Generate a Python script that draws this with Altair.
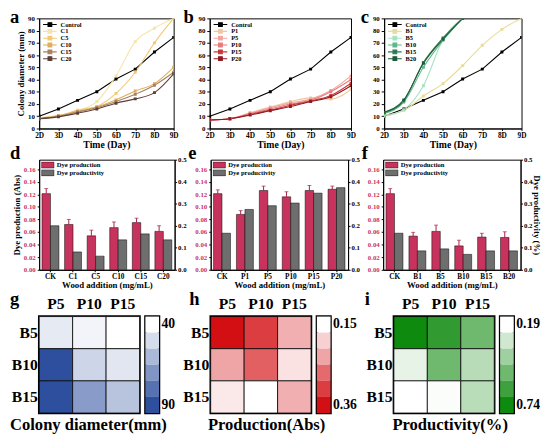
import altair as alt
import pandas as pd

FONT = "Liberation Serif"

# ---------------- data: growth curves (a, b, c) ----------------
days = ["2D", "3D", "4D", "5D", "6D", "7D", "8D", "9D"]
control = [10, 16, 23, 30, 40.5, 48.5, 62.5, 74.5]

a_names = ["Control", "C1", "C5", "C10", "C15", "C20"]
a_C1 = [8.2, 10, 14.6, 22, 43, 71, 82, 90]
a_C5 = [8, 10, 15, 18, 28.7, 46, 70, 90]
a_C10 = [8.5, 10.5, 14, 17.5, 23.4, 30.6, 36.7, 50]
a_C15 = [8, 10, 13.5, 17, 22, 28, 35.4, 46]
a_C20 = [8, 9.5, 12.5, 16, 20.7, 24.2, 29.3, 44.7]
a_colors = ["#000000", "#F7E3A6", "#F2C872", "#DDAE5E", "#A8825E", "#5E3E38"]

b_names = ["Control", "P1", "P5", "P10", "P15", "P20"]
b_P1 = [7, 8, 13, 17.5, 22, 25, 24, 32]
b_P5 = [7, 8, 12.5, 17, 21, 24, 31, 43]
b_P10 = [7, 8, 12, 16, 20, 23, 30, 40]
b_P15 = [7, 8, 11.5, 15, 19, 22.5, 27, 37]
b_P20 = [7, 8, 11, 14.5, 18, 22, 26, 35]
b_colors = ["#000000", "#F3C79A", "#F2A3A0", "#E47C7E", "#C8383C", "#8E1B22"]

c_names = ["Control", "B1", "B5", "B10", "B15", "B20"]
c_B1 = [11, 14.6, 26.6, 36.7, 51.4, 68, 81, 90]
c_B5 = [10, 15.4, 35, 72.7, 90]
c_B10 = [12.2, 21.6, 50, 72, 90]
c_B15 = [12.8, 22.6, 54, 74, 90]
c_B20 = [13.3, 23.4, 53.2, 73, 90]
c_colors = ["#000000", "#E8DC96", "#A6E3C2", "#5DB98A", "#2E7D52", "#1D5B3A"]

# ---------------- data: bars (d, e, f) ----------------
SERIES = ["Dye production", "Dye productivity"]
d_cats = ["CK", "C1", "C5", "C10", "C15", "C20"]
d_prod = [0.121, 0.072, 0.054, 0.067, 0.075, 0.061]
d_err = [0.008, 0.008, 0.009, 0.009, 0.007, 0.009]
d_pvity = [0.20, 0.081, 0.062, 0.136, 0.163, 0.136]

e_cats = ["CK", "P1", "P5", "P10", "P15", "P20"]
e_prod = [0.121, 0.088, 0.126, 0.116, 0.126, 0.128]
e_err = [0.006, 0.006, 0.007, 0.008, 0.008, 0.005]
e_pvity = [0.166, 0.274, 0.291, 0.303, 0.348, 0.373]

f_cats = ["CK", "B1", "B5", "B10", "B15", "B20"]
f_prod = [0.121, 0.0535, 0.061, 0.038, 0.052, 0.0514]
f_err = [0.008, 0.006, 0.010, 0.009, 0.006, 0.009]
f_pvity = [0.166, 0.086, 0.095, 0.070, 0.086, 0.086]

# ---------------- data: heatmaps (g, h, i) ----------------
hm_cols = ["P5", "P10", "P15"]
hm_rows = ["B5", "B10", "B15"]
g_vals = [[46, 43, 40], [90, 52, 47], [90, 68, 57]]
h_vals = [[0.36, 0.32, 0.22], [0.23, 0.29, 0.175], [0.17, 0.15, 0.22]]
i_vals = [[0.74, 0.66, 0.52], [0.245, 0.52, 0.355], [0.19, 0.20, 0.35]]
g_steps = [40, 50, 60, 70, 80, 90]
h_steps = [0.15, 0.19, 0.23, 0.28, 0.32, 0.36]
i_steps = [0.19, 0.30, 0.41, 0.52, 0.63, 0.74]

RED = "#C8335E"
GRAY = "#6E6E6E"
ERR = "#A31F48"
LEG_PATH_LINE = "M-1,0H3M0.45,-0.55H1.55V0.55H0.45Z"
LEG_PATH_BAR = "M-1,-0.9H2.6V0.9H-1Z"


def letter_mark(t, lx, ly):
    return alt.Chart(pd.DataFrame({"t": [t]})).mark_text(
        align="left", baseline="alphabetic", fontSize=19, fontWeight="bold",
        font=FONT, color="black"
    ).encode(text="t:N", x=alt.value(lx), y=alt.value(ly))


def line_df(names, series):
    rows = []
    for n, vals in zip(names, series):
        for d, v in zip(days, vals):
            rows.append({"series": n, "day": d, "value": v})
    return pd.DataFrame(rows)


def line_panel(names, series, colors, letter, lx, width, ytitle):
    df = line_df(names, series)
    x = alt.X("day:O", sort=days, scale=alt.Scale(type="point", padding=0),
              axis=alt.Axis(title="Time (Day)", labelAngle=0, labelFontSize=7.5,
                            titleFontSize=10, tickSize=2, labelPadding=1, titlePadding=1))
    y = alt.Y("value:Q", scale=alt.Scale(domain=[0, 90], nice=False),
              axis=alt.Axis(values=list(range(0, 91, 10)), title=ytitle, labelFontSize=7,
                            titleFontSize=9, tickSize=3, labelPadding=2, titlePadding=2))
    leg = alt.Legend(title=None, orient="top-left", offset=3, padding=0, labelFontSize=6.5,
                     symbolType=LEG_PATH_LINE, symbolSize=49, symbolStrokeWidth=1.1,
                     clipHeight=6.7, rowPadding=0, labelOffset=10)
    color = alt.Color("series:N", scale=alt.Scale(domain=names, range=colors), legend=leg)
    base = alt.Chart(df).encode(x=x, y=y, color=color)
    ctrl = base.transform_filter(alt.datum.series == "Control").mark_line(strokeWidth=1.1, clip=True)
    rest = base.transform_filter(alt.datum.series != "Control").mark_line(
        interpolate="monotone", strokeWidth=1.1, clip=True)
    pts = base.mark_point(filled=True, size=9, opacity=1, shape="square", clip=True)
    return alt.layer(ctrl, rest, pts, letter_mark(letter, lx, 5)).properties(width=width, height=113)


def bar_panel(cats, prod, err, pvity, letter, lx, width, ltitle, rtitle):
    hi = [round(p + e, 4) for p, e in zip(prod, err)]
    dfr = pd.DataFrame({"cat": cats, "prod": prod, "hi": hi, "series": SERIES[0]})
    dfg = pd.DataFrame({"cat": cats, "pvity": pvity, "series": SERIES[1]})
    x = alt.X("cat:N", sort=cats, scale=alt.Scale(paddingInner=0.25, paddingOuter=0.125),
              axis=alt.Axis(title="Wood addition (mg/mL)", labelAngle=0, labelFontSize=7.5,
                            titleFontSize=9, tickSize=2, labelPadding=1, titlePadding=1))
    xo = alt.XOffset("series:N", scale=alt.Scale(domain=SERIES))
    leg = alt.Legend(title=None, orient="top-left", offset=2, padding=0, labelFontSize=6.8,
                     symbolType=LEG_PATH_BAR, symbolSize=49, symbolStrokeColor="black",
                     symbolStrokeWidth=0.5, clipHeight=7, rowPadding=0, labelOffset=8)
    color = alt.Color("series:N", scale=alt.Scale(domain=SERIES, range=[RED, GRAY]), legend=leg)
    laxis = alt.Axis(orient="left", values=[0, 0.02, 0.04, 0.06, 0.08, 0.10, 0.12, 0.14, 0.16],
                     format=".2f", labelColor=RED, title=ltitle, labelFontSize=7, titleFontSize=9,
                     tickSize=2, labelPadding=2, titlePadding=2)
    raxis = alt.Axis(orient="right", values=[0, 0.1, 0.2, 0.3, 0.4, 0.5], format=".1f",
                     title=rtitle, labelFontSize=7, titleFontSize=9, tickSize=2,
                     labelPadding=1, titlePadding=0)
    ysc = alt.Scale(domain=[0, 0.175], nice=False)
    red = alt.Chart(dfr).mark_bar(stroke="black", strokeWidth=0.5).encode(
        x=x, xOffset=xo, y=alt.Y("prod:Q", scale=ysc, axis=laxis), color=color)
    rule = alt.Chart(dfr).mark_rule(color=ERR, strokeWidth=1).encode(
        x=x, xOffset=xo, y=alt.Y("prod:Q", scale=ysc, axis=laxis), y2="hi:Q")
    cap = alt.Chart(dfr).mark_tick(color=ERR, thickness=1, size=4).encode(
        x=x, xOffset=xo, y=alt.Y("hi:Q", scale=ysc, axis=laxis))
    left = alt.layer(red, rule, cap)
    gray = alt.Chart(dfg).mark_bar(stroke="black", strokeWidth=0.5).encode(
        x=x, xOffset=xo,
        y=alt.Y("pvity:Q", scale=alt.Scale(domain=[0, 0.5], nice=False), axis=raxis),
        color=color)
    return alt.layer(left, gray, letter_mark(letter, lx, -1)).resolve_scale(
        y="independent").properties(width=width, height=113)


def heat_panel(vals, steps, hi_color, title, letter, lx, tdx):
    rows = []
    for i, r in enumerate(hm_rows):
        for j, c in enumerate(hm_cols):
            rows.append({"row": r, "col": c, "v": vals[i][j]})
    df = pd.DataFrame(rows)
    sc = alt.Scale(domain=[steps[0], steps[-1]], range=["#ffffff", hi_color], interpolate="rgb")
    cells = alt.Chart(df).mark_rect(stroke="black", strokeWidth=0.8).encode(
        x=alt.X("col:N", sort=hm_cols,
                axis=alt.Axis(orient="top", title=None, labelAngle=0, labelFontSize=16,
                              ticks=False, tickSize=0, domain=False, labelPadding=5)),
        y=alt.Y("row:N", sort=hm_rows,
                axis=alt.Axis(title=None, labelFontSize=16, ticks=False, tickSize=0,
                              domain=False, labelPadding=2)),
        color=alt.Color("v:Q", scale=sc, legend=None))
    hm = alt.layer(cells, letter_mark(letter, lx, -12)).properties(
        width=103, height=99,
        view=alt.ViewBackground(stroke="black", strokeWidth=2.5))
    ldf = pd.DataFrame({"s": steps})
    expr = f"datum.value == {steps[0]} || datum.value == {steps[-1]} ? datum.label : ''"
    leg = alt.Chart(ldf).mark_rect().encode(
        y=alt.Y("s:O", sort="ascending",
                axis=alt.Axis(orient="right", title=None, labelExpr=expr, labelFontSize=14,
                              ticks=False, tickSize=0, domain=False, labelPadding=2)),
        color=alt.Color("s:Q", scale=sc, legend=None)).properties(
        width=14, height=99, view=alt.ViewBackground(stroke="black", strokeWidth=2.5))
    return alt.hconcat(hm, leg, spacing=2).resolve_scale(color="independent").properties(
        title=alt.TitleParams(title, orient="bottom", anchor="middle", fontSize=17, font=FONT,
                              fontWeight="bold", offset=3, dx=tdx))


pa = line_panel(a_names, [control, a_C1, a_C5, a_C10, a_C15, a_C20], a_colors, "a", -30, 138,
                "Colony diameter (mm)")
pb = line_panel(b_names, [control, b_P1, b_P5, b_P10, b_P15, b_P20], b_colors, "b", -27, 145, None)
pc = line_panel(c_names, [control, c_B1, c_B5, c_B10, c_B15, c_B20], c_colors, "c", -24, 141, None)

pd_ = bar_panel(d_cats, d_prod, d_err, d_pvity, "d", -30, 139, "Dye production (Abs)", None)
pe = bar_panel(e_cats, e_prod, e_err, e_pvity, "e", -23, 141, None, None)
pf = bar_panel(f_cats, f_prod, f_err, f_pvity, "f", -22, 141, None, "Dye productivity (%)")

pg = heat_panel(g_vals, g_steps, "#2D4F9E", "Colony diameter(mm)", "g", -30, -4)
ph = heat_panel(h_vals, h_steps, "#D40F14", "Production(Abs)", "h", -22, -3)
pi = heat_panel(i_vals, i_steps, "#0E8A0E", "Productivity(%)", "i", -30, -2)

row1 = alt.hconcat(pa, pb, pc, spacing=3).resolve_scale(color="independent")
row2 = alt.hconcat(pd_, pe, pf, spacing=0).resolve_scale(color="independent")
row3 = alt.hconcat(pg, ph, pi, spacing=5).resolve_scale(color="independent")

top = alt.vconcat(row1, row2, spacing=-7).resolve_scale(color="independent")
chart = alt.vconcat(top, row3, spacing=-2).resolve_scale(
    color="independent"
).properties(
    padding={"left": 0, "top": -6, "right": 0, "bottom": 0}
).configure(font=FONT).configure_axis(
    grid=False, labelFont=FONT, titleFont=FONT, labelFontWeight="bold", titleFontWeight="bold",
    domainColor="black", tickColor="black", labelColor="black", titleColor="black"
).configure_view(stroke="black", strokeWidth=1).configure_legend(
    labelFont=FONT, labelFontWeight="bold", labelColor="black"
).configure_title(font=FONT, fontWeight="bold", color="black")

chart.save("out.html", embed_options={"renderer": "svg", "actions": False})
